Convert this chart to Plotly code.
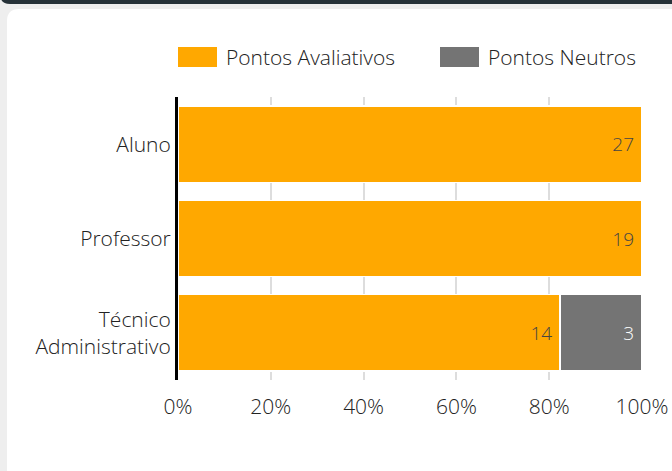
import plotly.graph_objects as go

categorias = ['Aluno', 'Professor', 'Técnico<br>Administrativo']
pontos_avaliativos = [27, 19, 14]
pontos_neutros = [0, 0, 3]
nome_aval = 'Pontos Avaliativos'
nome_neutro = 'Pontos Neutros'
ticks_pct = [0, 20, 40, 60, 80, 100]
cor_aval = '#FFA800'
cor_neutro = '#747474'

W, H = 672, 471
L, R, T, B = 178, 30, 97, 91
pw, ph = W - L - R, H - T - B


def px(x):
    return (x - L) / pw


def py(y):
    return (H - B - y) / ph


def rounded_box(x0, y0, x1, y1, r):
    # rounded rectangle path in paper coords (pixel input)
    return (f'M{px(x0 + r)},{py(y0)} L{px(x1 - r)},{py(y0)} '
            f'Q{px(x1)},{py(y0)} {px(x1)},{py(y0 + r)} L{px(x1)},{py(y1 - r)} '
            f'Q{px(x1)},{py(y1)} {px(x1 - r)},{py(y1)} L{px(x0 + r)},{py(y1)} '
            f'Q{px(x0)},{py(y1)} {px(x0)},{py(y1 - r)} L{px(x0)},{py(y0 + r)} '
            f'Q{px(x0)},{py(y0)} {px(x0 + r)},{py(y0)} Z')


fonte = 'Open Sans'

fig = go.Figure()
fig.add_trace(go.Bar(
    y=categorias, x=pontos_avaliativos, name=nome_aval, orientation='h',
    marker=dict(color=cor_aval, line=dict(color='white', width=1.5)),
    text=[f'{v}\u00a0' if v else '' for v in pontos_avaliativos],
    textposition='inside', insidetextanchor='end',
    textfont=dict(color='#444444', size=19, weight=300),
))
fig.add_trace(go.Bar(
    y=categorias, x=pontos_neutros, name=nome_neutro, orientation='h',
    marker=dict(color=cor_neutro, line=dict(color='white', width=1.5)),
    text=[f'{v}\u00a0' if v else '' for v in pontos_neutros],
    textposition='inside', insidetextanchor='end',
    textfont=dict(color='white', size=19, weight=300),
))

shapes = [
    dict(type='path', xref='paper', yref='paper', layer='below',
         path=rounded_box(7, 9, 700, 500, 12), fillcolor='white', line=dict(width=0)),
    dict(type='path', xref='paper', yref='paper', layer='below',
         path=rounded_box(0, -20, 700, 4, 10), fillcolor='#263238', line=dict(width=0)),
    # legend swatches
    dict(type='rect', xref='paper', yref='paper', x0=px(178), x1=px(217), y0=py(67), y1=py(47),
         fillcolor=cor_aval, line=dict(width=0)),
    dict(type='rect', xref='paper', yref='paper', x0=px(440), x1=px(479), y0=py(67), y1=py(47),
         fillcolor=cor_neutro, line=dict(width=0)),
]
annotations = [
    dict(text=nome_aval, xref='paper', yref='paper', x=px(224), y=py(57),
         xanchor='left', yanchor='middle', showarrow=False,
         font=dict(size=21, color='#222222', weight=300)),
    dict(text=nome_neutro, xref='paper', yref='paper', x=px(486), y=py(57),
         xanchor='left', yanchor='middle', showarrow=False,
         font=dict(size=21, color='#222222', weight=300)),
]

fig.update_layout(
    width=W, height=H,
    margin=dict(l=L, r=R, t=T, b=B),
    barmode='stack', barnorm='percent', bargap=0.19,
    paper_bgcolor='#eeeeee', plot_bgcolor='white',
    font=dict(family=fonte, size=21, color='#222222', weight=300),
    showlegend=False,
    shapes=shapes, annotations=annotations,
    xaxis=dict(range=[0, 100], tickvals=ticks_pct, ticktext=[f'{t}%' for t in ticks_pct],
               showgrid=True, gridcolor='#dddddd', gridwidth=2, zeroline=False,
               ticks='outside', ticklen=8, tickcolor='rgba(0,0,0,0)', automargin=False,
               tickfont=dict(size=21, color='#222222', weight=300), fixedrange=True),
    yaxis=dict(autorange='reversed', showline=True, linecolor='black', linewidth=3,
               tickfont=dict(size=21, color='#222222', weight=300), ticks='', automargin=False,
               fixedrange=True),
)

fig.write_html('out.html', post_script="document.body.style.margin='0';",
               config=dict(displayModeBar=False))
